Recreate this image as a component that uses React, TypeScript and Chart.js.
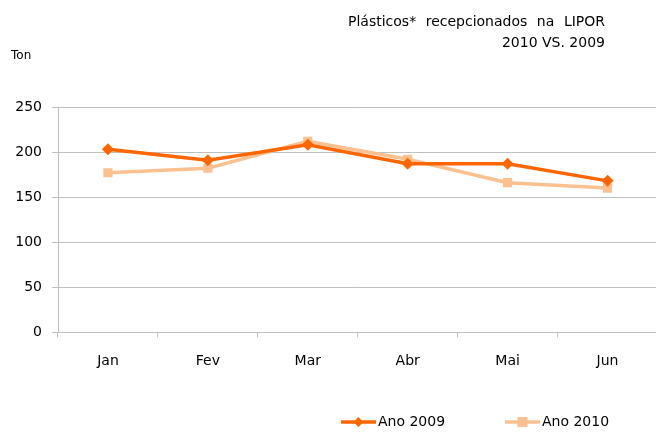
import React, { useEffect, useRef } from "react";
import { Chart, registerables } from "chart.js";

Chart.register(...registerables);

const categories = ["Jan", "Fev", "Mar", "Abr", "Mai", "Jun"];
const ano2009 = [203, 191, 208, 187, 187, 168];
const ano2010 = [177, 182, 212, 192, 166, 160];
const yTicks = [0, 50, 100, 150, 200, 250];
const titleLines = ["Plásticos* recepcionados na LIPOR", "2010 VS. 2009"];
const yUnit = "Ton";
const seriesNames = ["Ano 2009", "Ano 2010"];

const C2009 = "#FF6600";
const C2010 = "#FAC090";
const FONT = "'DejaVu Sans', sans-serif";

const overlay = {
  id: "overlay",
  afterDraw(chart: any) {
    const ctx = chart.ctx;
    ctx.save();
    ctx.fillStyle = "#000";
    ctx.textBaseline = "middle";
    // title, first line spread between 348 and 605
    ctx.font = `14px ${FONT}`;
    ctx.textAlign = "left";
    const words = titleLines[0].split(" ");
    const widths = words.map((w) => ctx.measureText(w).width);
    const total = widths.reduce((a, b) => a + b, 0);
    const gap = (605 - 348 - total) / (words.length - 1);
    let wx = 348;
    words.forEach((w, i) => {
      ctx.fillText(w, wx, 22);
      wx += widths[i] + gap;
    });
    ctx.textAlign = "right";
    ctx.fillText(titleLines[1], 605, 43);
    // unit
    ctx.font = `12px ${FONT}`;
    ctx.textAlign = "left";
    ctx.fillText(yUnit, 11, 56);
    // legend
    const items = [
      { x: 341, color: C2009, style: "diamond", name: seriesNames[0] },
      { x: 505, color: C2010, style: "square", name: seriesNames[1] },
    ];
    const ly = 422;
    items.forEach((it) => {
      ctx.strokeStyle = it.color;
      ctx.lineWidth = 3.5;
      ctx.beginPath();
      ctx.moveTo(it.x, ly);
      ctx.lineTo(it.x + 35, ly);
      ctx.stroke();
      ctx.fillStyle = it.color;
      const cx = it.x + 17.5;
      if (it.style === "diamond") {
        ctx.beginPath();
        ctx.moveTo(cx, ly - 5);
        ctx.lineTo(cx + 5, ly);
        ctx.lineTo(cx, ly + 5);
        ctx.lineTo(cx - 5, ly);
        ctx.closePath();
        ctx.fill();
      } else {
        ctx.fillRect(cx - 5, ly - 5, 10, 10);
      }
      ctx.fillStyle = "#000";
      ctx.font = `14px ${FONT}`;
      ctx.textAlign = "left";
      ctx.fillText(it.name, it.x + 37, ly);
    });
    ctx.restore();
  },
};

export default function App() {
  const ref = useRef<HTMLCanvasElement>(null);
  useEffect(() => {
    document.body.style.margin = "0";
    document.body.style.background = "#fff";
    const chart = new Chart(ref.current!, {
      type: "line",
      data: {
        labels: categories,
        datasets: [
          {
            label: seriesNames[0],
            data: ano2009,
            borderColor: C2009,
            backgroundColor: C2009,
            borderWidth: 3.5,
            pointStyle: "rectRot",
            pointRadius: 6,
            pointBorderWidth: 0,
            tension: 0,
          },
          {
            label: seriesNames[1],
            data: ano2010,
            borderColor: C2010,
            backgroundColor: C2010,
            borderWidth: 3.5,
            pointStyle: "rect",
            pointRadius: 6.5,
            pointBorderWidth: 0,
            tension: 0,
          },
        ],
      },
      options: {
        animation: false,
        responsive: false,
        layout: { padding: { top: 107, bottom: 46, left: 0, right: 0 } },
        plugins: {
          legend: { display: false },
          title: { display: false },
          tooltip: { enabled: false },
        },
        scales: {
          x: {
            offset: true,
            grid: {
              offset: true,
              drawOnChartArea: false,
              drawTicks: true,
              tickLength: 5,
              color: "#BFBFBF",
            },
            border: { color: "#BFBFBF", width: 1 },
            ticks: { color: "#000", font: { family: FONT, size: 14 }, padding: 16 },
          },
          y: {
            min: 0,
            max: 250,
            afterFit(scale: any) {
              scale.width = 58;
            },
            afterBuildTicks(scale: any) {
              scale.ticks = yTicks.map((v) => ({ value: v }));
            },
            grid: {
              color: "#BFBFBF",
              drawTicks: true,
              tickLength: 6,
            },
            border: { color: "#BFBFBF", width: 1 },
            ticks: { color: "#000", font: { family: FONT, size: 14 }, padding: 10 },
          },
        },
      },
      plugins: [overlay],
    });
    return () => chart.destroy();
  }, []);
  return (
    <div style={{ position: "fixed", left: 0, top: 0, width: 656, height: 432, overflow: "hidden" }}>
      <canvas ref={ref} width={664} height={432} style={{ display: "block", width: 664, height: 432 }} />
    </div>
  );
}
